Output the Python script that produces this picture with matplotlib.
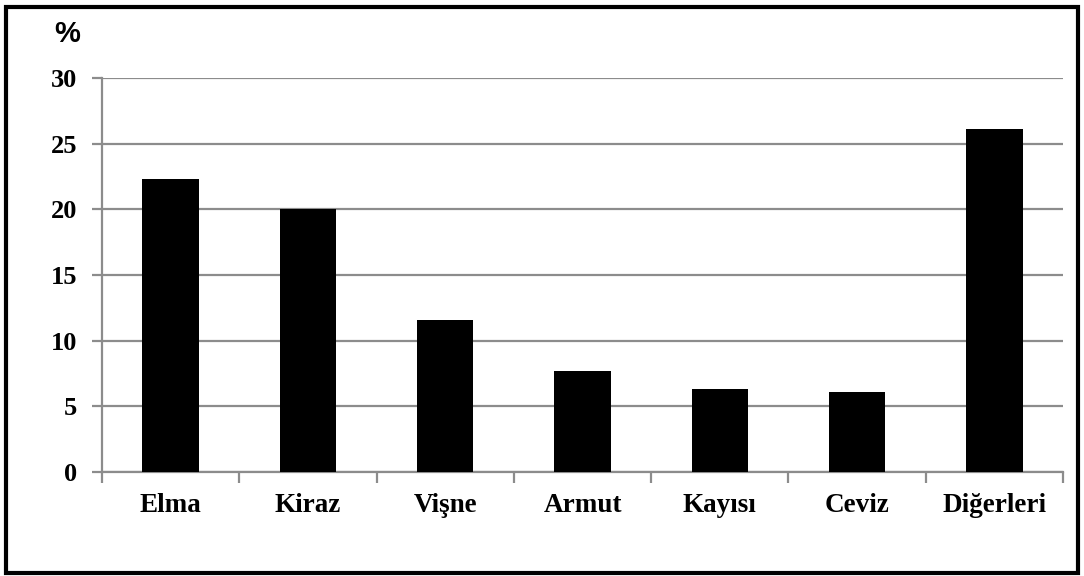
import matplotlib.pyplot as plt
from matplotlib.patches import Rectangle

categories = ["Elma", "Kiraz", "Vişne", "Armut", "Kayısı", "Ceviz", "Diğerleri"]
shares = [22.3, 20.0, 11.6, 7.7, 6.3, 6.1, 26.1]
yticks = [0, 5, 10, 15, 20, 25, 30]

grid_color = "#8c8c8c"

fig = plt.figure(figsize=(10.84, 5.76), dpi=100)
ax = fig.add_axes([102 / 1084, 1 - 472 / 576, (1063 - 102) / 1084, (472 - 78) / 576])

x = range(len(categories))
ax.bar(x, shares, width=0.41, color="black", zorder=3)

ax.set_xlim(-0.5, len(categories) - 0.5)
ax.set_ylim(0, 30)
ax.set_yticks(yticks)
ax.set_yticklabels([str(v) for v in yticks], fontfamily="Liberation Serif",
                   fontweight="bold", fontsize=19)
ax.yaxis.grid(True, color=grid_color, linewidth=1.6, zorder=0)

# category labels centred under bars, ticks on the category boundaries
ax.set_xticks(list(x))
ax.set_xticklabels(categories, fontfamily="Liberation Serif", fontweight="bold", fontsize=19.5)
ax.tick_params(axis="x", length=0, pad=15)
ax.set_xticks([i - 0.5 for i in range(len(categories) + 1)], minor=True)
ax.tick_params(axis="x", which="minor", length=8, width=1.6, color=grid_color, direction="out")
ax.tick_params(axis="y", length=7, width=1.6, color=grid_color, pad=11)

for side in ["top", "right"]:
    ax.spines[side].set_visible(False)
for side in ["left", "bottom"]:
    ax.spines[side].set_color(grid_color)
    ax.spines[side].set_linewidth(1.6)

fig.text(54 / 1084, 1 - 34 / 576, "%", fontfamily="Liberation Sans", fontweight="bold",
         fontsize=21, va="center", ha="left")

# black outer frame
fig.patches.append(Rectangle((6 / 1084, 3 / 576), 1072 / 1084, 566 / 576,
                             transform=fig.transFigure, fill=False,
                             edgecolor="black", linewidth=3))

fig.savefig("out.png", dpi=100)
